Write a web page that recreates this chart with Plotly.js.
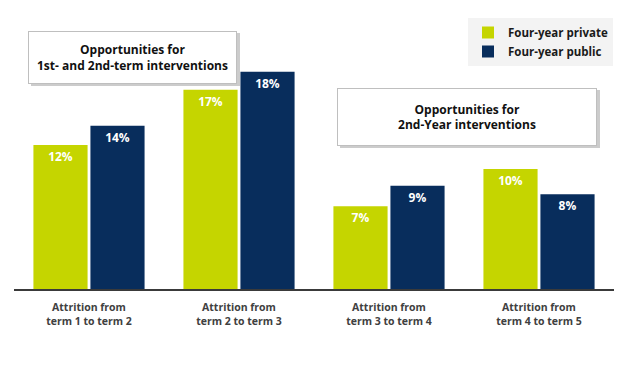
<!DOCTYPE html>
<html>
<head>
<meta charset="utf-8">
<script src="https://cdn.plot.ly/plotly-3.0.1.min.js"></script>
<style>html,body{margin:0;padding:0;background:#fff;}#chart{width:624px;height:376px;}</style>
</head>
<body>
<div id="chart"></div>
<script>
const categories = ["Attrition from<br>term 1 to term 2", "Attrition from<br>term 2 to term 3", "Attrition from<br>term 3 to term 4", "Attrition from<br>term 4 to term 5"];
const privateValues = [12.0, 16.6, 6.9, 10.0];
const publicValues = [13.6, 18.1, 8.6, 7.9];
const seriesNames = ["Four-year private", "Four-year public"];
const boxLabels = ["Opportunities for<br>1st- and 2nd-term interventions", "Opportunities for<br>2nd-Year interventions"];

const FONT = "'Open Sans', 'Noto Sans', sans-serif";
const green = "#c5d500";
const navy = "#082d5c";

function barTrace(name, vals, color) {
  return {
    type: "bar", name: name, x: categories, y: vals,
    marker: {color: color},
    texttemplate: "<b>%{y:.0f}%</b>",
    textposition: "inside", insidetextanchor: "end",
    textfont: {family: FONT, size: 12, color: "#ffffff"},
    hoverinfo: "skip"
  };
}

const data = [barTrace(seriesNames[0], privateValues, green), barTrace(seriesNames[1], publicValues, navy)];

// pixel helpers for placing boxes (plot area: x 14..614, y 49..289)
const px = v => (v - 14) / 600;
const py = v => (289 - v) / 240;

const layout = {
  width: 624, height: 376,
  margin: {l: 14, r: 10, t: 49, b: 87, autoexpand: false},
  paper_bgcolor: "#ffffff", plot_bgcolor: "#ffffff",
  barmode: "group", bargap: 0.24, bargroupgap: 0.05,
  font: {family: FONT, color: "#404040"},
  xaxis: {
    showline: true, linecolor: "#3a3a3a", linewidth: 1.5,
    ticks: "", showgrid: false, zeroline: false,
    ticklabelstandoff: 8,
    tickfont: {family: FONT, size: 10.5, color: "#404040"},
    tickprefix: "<b>", ticksuffix: "</b>"
  },
  yaxis: {range: [0, 20], visible: false, showgrid: false, zeroline: false},
  showlegend: true,
  legend: {
    x: px(613), y: py(18), xanchor: "right", yanchor: "top",
    bgcolor: "#f3f3f3", borderwidth: 0,
    font: {family: FONT, size: 11.5, color: "#1a1a1a", weight: "bold"},
    itemwidth: 30, tracegroupgap: 0
  },
  shapes: [
    {type: "rect", xref: "paper", yref: "paper", x0: px(31), x1: px(240), y0: py(33), y1: py(86), fillcolor: "rgba(0,0,0,0.2)", line: {width: 0}, layer: "above"},
    {type: "rect", xref: "paper", yref: "paper", x0: px(340), x1: px(600), y0: py(90), y1: py(148), fillcolor: "rgba(0,0,0,0.2)", line: {width: 0}, layer: "above"}
  ],
  annotations: [
    {xref: "paper", yref: "paper", x: px(132.5), y: py(57), xanchor: "center", yanchor: "middle",
     text: "<b>" + boxLabels[0] + "</b>", showarrow: false, align: "center",
     font: {family: FONT, size: 12, color: "#111111"},
     bgcolor: "#ffffff", bordercolor: "#bfbfbf", borderwidth: 1, borderpad: 0,
     width: 207, height: 51},
    {xref: "paper", yref: "paper", x: px(467), y: py(116.5), xanchor: "center", yanchor: "middle",
     text: "<b>" + boxLabels[1] + "</b>", showarrow: false, align: "center",
     font: {family: FONT, size: 12, color: "#111111"},
     bgcolor: "#ffffff", bordercolor: "#bfbfbf", borderwidth: 1, borderpad: 0,
     width: 258, height: 56}
  ]
};

Plotly.newPlot("chart", data, layout, {displayModeBar: false, staticPlot: true});
</script>
</body>
</html>
